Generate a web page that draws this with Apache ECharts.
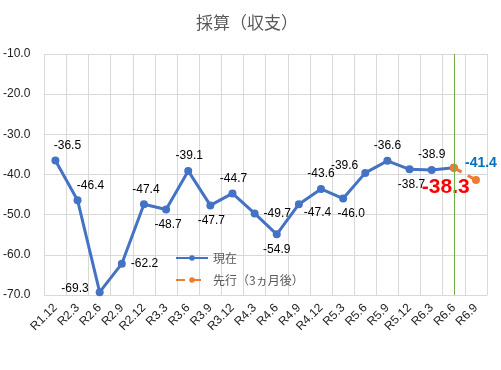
<!DOCTYPE html>
<html>
<head>
<meta charset="utf-8">
<script src="https://cdn.jsdelivr.net/npm/echarts@6/dist/echarts.min.js"></script>
<style>
  html, body { margin: 0; padding: 0; background: #fff; }
  #myChart { width: 501px; height: 370px; }
</style>
</head>
<body>
<div id="myChart"></div>
<script>
// 期間（四半期）
var categories = ['R1.12', 'R2.3', 'R2.6', 'R2.9', 'R2.12', 'R3.3', 'R3.6', 'R3.9', 'R3.12', 'R4.3',
  'R4.6', 'R4.9', 'R4.12', 'R5.3', 'R5.6', 'R5.9', 'R5.12', 'R6.3', 'R6.6', 'R6.9'];
// 現在
var genzai = [-36.5, -46.4, -69.3, -62.2, -47.4, -48.7, -39.1, -47.7, -44.7, -49.7,
  -54.9, -47.4, -43.6, -46.0, -39.6, -36.6, -38.7, -38.9, -38.3, null];
// 先行（3ヵ月後）
var senko = [null, null, null, null, null, null, null, null, null, null,
  null, null, null, null, null, null, null, null, -38.3, -41.4];
var yTicks = [-70, -60, -50, -40, -30, -20, -10];

// ラベル位置（現在）
var labelPos = ['top', 'top', 'left', 'right', 'top', 'bottom', 'top', 'bottom', 'top', 'right',
  'bottom', 'right', 'top', 'bottom', 'left', 'top', 'bottom', 'top', 'bottom', 'top'];
var labelOffset = [[12, 0], [13, 0], [-2, -4], [0, 0], [2, 0], [2, 0], [1, 0], [1, 0], [1, 0], [0, 0],
  [0, 0], [-4, 8], [0, 0], [8, 0], [2, -7], [0, 0], [2, 0], [0, 0], [-8, 0], [0, 0]];

var genzaiData = genzai.map(function (v, i) {
  if (v === null) return null;
  var item = { value: v, label: { position: labelPos[i], offset: labelOffset[i] } };
  if (i === 18) {
    item.label.color = '#FF0000';
    item.label.fontSize = 21;
    item.label.fontWeight = 'bold';
  }
  return item;
});

var senkoData = senko.map(function (v, i) {
  if (v === null) return null;
  var item = { value: v, label: { show: false } };
  if (i === 19) {
    item.label = { show: true, position: 'top', offset: [5, -1], color: '#0070C0', fontSize: 14, fontWeight: 'bold' };
  }
  return item;
});

var Chart = echarts.init(document.getElementById('myChart'));
Chart.setOption({
  animation: false,
  textStyle: { fontFamily: 'Noto Sans CJK JP, Liberation Sans, sans-serif' },
  title: {
    text: '採算（収支）',
    left: 191,
    top: 9,
    textStyle: { fontSize: 17, fontWeight: 'normal', color: '#595959', fontFamily: 'Noto Sans CJK JP' }
  },
  grid: { left: 43, right: 14, top: 54, bottom: 75 },
  legend: {
    orient: 'vertical',
    left: 170,
    top: 247,
    itemWidth: 32,
    itemHeight: 7,
    itemGap: 10,
    textStyle: { fontSize: 12, color: '#595959' },
    data: ['現在', '先行（3ヵ月後）']
  },
  xAxis: {
    type: 'category',
    data: categories,
    boundaryGap: true,
    axisLine: { lineStyle: { color: '#d9d9d9' } },
    axisTick: { show: false },
    splitLine: { show: true, interval: 0, lineStyle: { color: '#d9d9d9' } },
    axisLabel: { interval: 0, rotate: 45, fontSize: 12, color: '#222', fontFamily: 'Liberation Sans', margin: 11 }
  },
  yAxis: {
    type: 'value',
    min: yTicks[0],
    max: yTicks[yTicks.length - 1],
    interval: 10,
    axisLine: { show: false },
    axisTick: { show: false },
    splitLine: { lineStyle: { color: '#d9d9d9' } },
    axisLabel: {
      fontSize: 12, color: '#222', fontFamily: 'Liberation Sans', margin: 14,
      formatter: function (v) { return v.toFixed(1); }
    }
  },
  series: [
    {
      name: '現在',
      type: 'line',
      data: genzaiData,
      symbol: 'circle',
      symbolSize: 8,
      color: '#4472C4',
      lineStyle: { width: 3, color: '#4472C4' },
      label: {
        show: true, fontSize: 12, color: '#000', fontFamily: 'Liberation Sans',
        formatter: function (p) { return p.value.toFixed(1); }
      },
      markLine: {
        silent: true,
        symbol: 'none',
        label: { show: false },
        lineStyle: { color: '#70AD47', width: 1, type: 'solid' },
        data: [{ xAxis: 'R6.6' }]
      },
      z: 2
    },
    {
      name: '先行（3ヵ月後）',
      type: 'line',
      data: senkoData,
      symbol: 'circle',
      symbolSize: 8,
      color: '#ED7D31',
      lineStyle: { width: 3, color: '#ED7D31', type: [9, 7] },
      label: {
        fontFamily: 'Liberation Sans',
        formatter: function (p) { return p.value.toFixed(1); }
      },
      z: 3
    }
  ]
}, true);
</script>
</body>
</html>
